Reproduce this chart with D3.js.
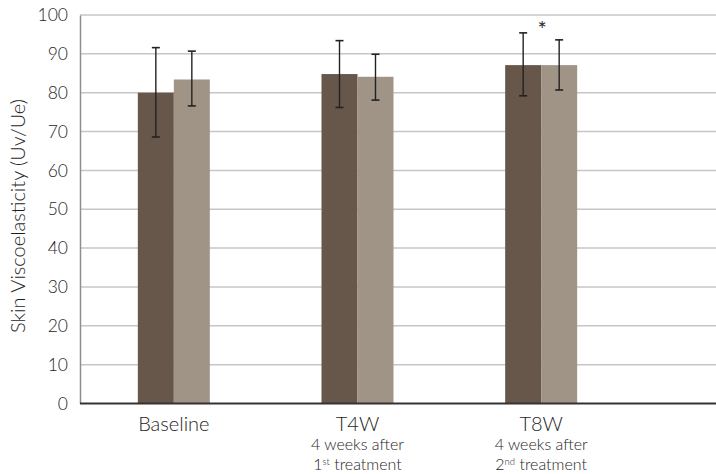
<!DOCTYPE html>
<html><head><meta charset="utf-8">
<script src="https://cdn.jsdelivr.net/npm/d3@7"></script>
<style>
body{margin:0;background:#fff;}
text{font-family:Lato,"Open Sans",sans-serif;font-weight:300;fill:#1e1e1e;}
</style></head>
<body><svg id="c" width="716" height="474"></svg>
<script>
const categories = ["Baseline","T4W","T8W"];
const subLine1 = ["","4 weeks after","4 weeks after"];
const subOrd = ["","st","nd"];
const subNum = ["","1","2"];
const series = ["A","B"];
const valuesA = [80.0, 84.8, 87.1];
const valuesB = [83.4, 84.1, 87.1];
const errHiA = [91.6, 93.4, 95.4];
const errLoA = [68.6, 76.2, 79.2];
const errHiB = [90.7, 89.9, 93.6];
const errLoB = [76.6, 78.1, 80.7];
const yTicks = [0,10,20,30,40,50,60,70,80,90,100];
const colors = ["#67564a","#a09486"];
const sig = [false,false,true];

const svg = d3.select("#c");
const L=80, R=716, T=15, B=403.5;
const x = d3.scaleBand().domain(categories).range([82,633]).padding(0);
const x1 = d3.scaleBand().domain(series).range([0,72]);
const y = d3.scaleLinear().domain([0,100]).range([B,T]);

// gridlines
svg.append("g").selectAll("line").data(yTicks.filter(d=>d>0)).join("line")
  .attr("x1",L).attr("x2",R).attr("y1",d=>y(d)).attr("y2",d=>y(d))
  .attr("stroke","#c6c6c6").attr("stroke-width",1.5);

// y axis
const ya = svg.append("g").attr("transform",`translate(${L},0)`)
  .call(d3.axisLeft(y).tickValues(yTicks).tickSize(0).tickPadding(12));
ya.select(".domain").attr("stroke","#8e8e8e").attr("stroke-width",1.5);
ya.selectAll("text").style("font-size","17.5px").style("font-family","Lato,sans-serif").style("font-weight","300").attr("fill","#1e1e1e");

const data = categories.map((c,i)=>({c,vals:[
  {s:"A",v:valuesA[i],hi:errHiA[i],lo:errLoA[i]},
  {s:"B",v:valuesB[i],hi:errHiB[i],lo:errLoB[i]}]}));

const g = svg.append("g").selectAll("g").data(data).join("g")
  .attr("transform",d=>`translate(${x(d.c)+x.bandwidth()/2-36},0)`);
g.selectAll("rect").data(d=>d.vals).join("rect")
  .attr("x",d=>x1(d.s)).attr("width",x1.bandwidth())
  .attr("y",d=>y(d.v)).attr("height",d=>y(0)-y(d.v))
  .attr("fill",(d,i)=>colors[i]);
const eb = g.selectAll("g.eb").data(d=>d.vals).join("g").attr("class","eb")
  .attr("transform",d=>`translate(${x1(d.s)+x1.bandwidth()/2},0)`);
eb.append("line").attr("y1",d=>y(d.hi)).attr("y2",d=>y(d.lo)).attr("stroke","#222").attr("stroke-width",1.4);
eb.append("line").attr("x1",-4).attr("x2",4).attr("y1",d=>y(d.hi)).attr("y2",d=>y(d.hi)).attr("stroke","#222").attr("stroke-width",1.6);
eb.append("line").attr("x1",-4).attr("x2",4).attr("y1",d=>y(d.lo)).attr("y2",d=>y(d.lo)).attr("stroke","#222").attr("stroke-width",1.6);

// significance star
svg.selectAll("text.star").data(categories.filter((c,i)=>sig[i])).join("text").attr("class","star")
  .attr("x",d=>x(d)+x.bandwidth()/2+1).attr("y",37).attr("text-anchor","middle")
  .style("font-size","22px").style("font-weight","400").style("fill","#2a2a2a").text("*");

// x axis
svg.append("line").attr("x1",L).attr("x2",R).attr("y1",B).attr("y2",B)
  .attr("stroke","#333").attr("stroke-width",2);

// x labels
const xl = svg.append("g").selectAll("g").data(categories).join("g")
  .attr("transform",d=>`translate(${x(d)+x.bandwidth()/2},0)`);
xl.append("text").attr("y",431).attr("text-anchor","middle").style("font-size","20px").text(d=>d);
xl.filter((d,i)=>subLine1[i]).append("text").attr("y",450).attr("text-anchor","middle")
  .style("font-size","16px").text((d,i)=>subLine1[categories.indexOf(d)]);
xl.filter((d,i)=>subLine1[i]).each(function(d){
  const i = categories.indexOf(d);
  const t = d3.select(this).append("text").attr("y",469.5).attr("text-anchor","middle").style("font-size","16px");
  t.append("tspan").text(subNum[i]);
  t.append("tspan").attr("dy",-5).style("font-size","9.5px").text(subOrd[i]);
  t.append("tspan").attr("dy",5).text(" treatment");
});

// y title
svg.append("text").attr("transform",`translate(25,216) rotate(-90)`)
  .attr("text-anchor","middle").style("font-size","20px").text("Skin Viscoelasticity (Uv/Ue)");
</script></body></html>
